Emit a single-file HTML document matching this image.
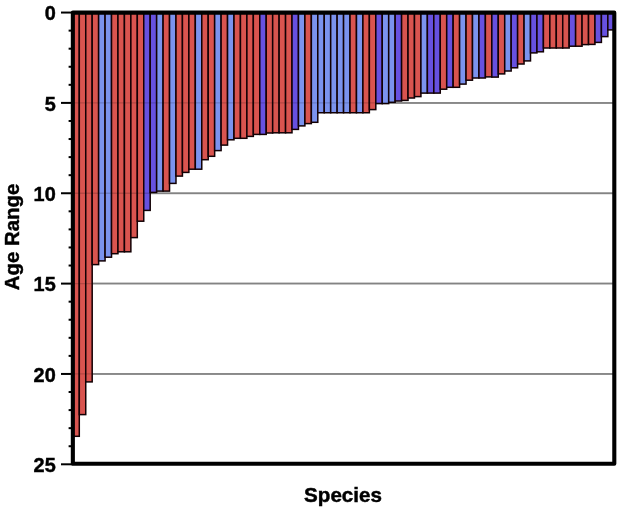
<!DOCTYPE html>
<html><head><meta charset="utf-8"><title>Age Range by Species</title>
<style>
html,body{margin:0;padding:0;background:#fff;}
body{width:622px;height:512px;overflow:hidden;}
svg{display:block;}
text{font-family:"Liberation Sans",sans-serif;font-weight:bold;fill:#000;stroke:#000;stroke-width:0.45px;}
</style></head><body>
<svg width="622" height="512" viewBox="0 0 622 512">
<rect width="622" height="512" fill="#fff"/>

<g stroke="#9c9c9c" stroke-width="2">
<line x1="72.85" x2="614.3" y1="102.90" y2="102.90"/>
<line x1="72.85" x2="614.3" y1="193.25" y2="193.25"/>
<line x1="72.85" x2="614.3" y1="283.60" y2="283.60"/>
<line x1="72.85" x2="614.3" y1="373.95" y2="373.95"/>
</g>
<g stroke="#120004" stroke-width="1.5">
<rect x="72.85" y="12.55" width="6.446" height="423.75" fill="#d9544f"/>
<rect x="79.30" y="12.55" width="6.446" height="402.05" fill="#d9544f"/>
<rect x="85.74" y="12.55" width="6.446" height="369.35" fill="#d9544f"/>
<rect x="92.19" y="12.55" width="6.446" height="252.05" fill="#d9544f"/>
<rect x="98.63" y="12.55" width="6.446" height="248.35" fill="#7b93ee"/>
<rect x="105.08" y="12.55" width="6.446" height="244.65" fill="#7b93ee"/>
<rect x="111.52" y="12.55" width="6.446" height="241.15" fill="#d9544f"/>
<rect x="117.97" y="12.55" width="6.446" height="239.25" fill="#d9544f"/>
<rect x="124.42" y="12.55" width="6.446" height="239.25" fill="#d9544f"/>
<rect x="130.86" y="12.55" width="6.446" height="225.05" fill="#d9544f"/>
<rect x="137.31" y="12.55" width="6.446" height="208.65" fill="#d9544f"/>
<rect x="143.75" y="12.55" width="6.446" height="197.85" fill="#6751e0"/>
<rect x="150.20" y="12.55" width="6.446" height="179.85" fill="#6751e0"/>
<rect x="156.65" y="12.55" width="6.446" height="178.55" fill="#7b93ee"/>
<rect x="163.09" y="12.55" width="6.446" height="178.55" fill="#d9544f"/>
<rect x="169.54" y="12.55" width="6.446" height="170.85" fill="#7b93ee"/>
<rect x="175.98" y="12.55" width="6.446" height="163.55" fill="#d9544f"/>
<rect x="182.43" y="12.55" width="6.446" height="159.85" fill="#d9544f"/>
<rect x="188.88" y="12.55" width="6.446" height="156.65" fill="#d9544f"/>
<rect x="195.32" y="12.55" width="6.446" height="156.65" fill="#7b93ee"/>
<rect x="201.77" y="12.55" width="6.446" height="147.15" fill="#d9544f"/>
<rect x="208.21" y="12.55" width="6.446" height="143.75" fill="#d9544f"/>
<rect x="214.66" y="12.55" width="6.446" height="138.05" fill="#7b93ee"/>
<rect x="221.10" y="12.55" width="6.446" height="132.55" fill="#d9544f"/>
<rect x="227.55" y="12.55" width="6.446" height="127.25" fill="#7b93ee"/>
<rect x="234.00" y="12.55" width="6.446" height="125.75" fill="#d9544f"/>
<rect x="240.44" y="12.55" width="6.446" height="125.75" fill="#d9544f"/>
<rect x="246.89" y="12.55" width="6.446" height="123.85" fill="#d9544f"/>
<rect x="253.33" y="12.55" width="6.446" height="121.85" fill="#d9544f"/>
<rect x="259.78" y="12.55" width="6.446" height="121.85" fill="#6751e0"/>
<rect x="266.23" y="12.55" width="6.446" height="120.45" fill="#d9544f"/>
<rect x="272.67" y="12.55" width="6.446" height="120.25" fill="#d9544f"/>
<rect x="279.12" y="12.55" width="6.446" height="120.25" fill="#d9544f"/>
<rect x="285.56" y="12.55" width="6.446" height="120.25" fill="#d9544f"/>
<rect x="292.01" y="12.55" width="6.446" height="116.85" fill="#6751e0"/>
<rect x="298.45" y="12.55" width="6.446" height="113.35" fill="#7b93ee"/>
<rect x="304.90" y="12.55" width="6.446" height="111.05" fill="#d9544f"/>
<rect x="311.35" y="12.55" width="6.446" height="109.75" fill="#7b93ee"/>
<rect x="317.79" y="12.55" width="6.446" height="100.20" fill="#7b93ee"/>
<rect x="324.24" y="12.55" width="6.446" height="100.20" fill="#7b93ee"/>
<rect x="330.68" y="12.55" width="6.446" height="100.20" fill="#7b93ee"/>
<rect x="337.13" y="12.55" width="6.446" height="100.20" fill="#7b93ee"/>
<rect x="343.57" y="12.55" width="6.446" height="100.20" fill="#7b93ee"/>
<rect x="350.02" y="12.55" width="6.446" height="100.20" fill="#d9544f"/>
<rect x="356.47" y="12.55" width="6.446" height="100.20" fill="#7b93ee"/>
<rect x="362.91" y="12.55" width="6.446" height="100.20" fill="#d9544f"/>
<rect x="369.36" y="12.55" width="6.446" height="97.05" fill="#d9544f"/>
<rect x="375.80" y="12.55" width="6.446" height="91.05" fill="#6751e0"/>
<rect x="382.25" y="12.55" width="6.446" height="91.05" fill="#7b93ee"/>
<rect x="388.70" y="12.55" width="6.446" height="89.75" fill="#7b93ee"/>
<rect x="395.14" y="12.55" width="6.446" height="88.45" fill="#6751e0"/>
<rect x="401.59" y="12.55" width="6.446" height="87.85" fill="#d9544f"/>
<rect x="408.03" y="12.55" width="6.446" height="85.45" fill="#d9544f"/>
<rect x="414.48" y="12.55" width="6.446" height="84.05" fill="#d9544f"/>
<rect x="420.92" y="12.55" width="6.446" height="80.55" fill="#7b93ee"/>
<rect x="427.37" y="12.55" width="6.446" height="80.55" fill="#6751e0"/>
<rect x="433.82" y="12.55" width="6.446" height="80.55" fill="#6751e0"/>
<rect x="440.26" y="12.55" width="6.446" height="76.65" fill="#d9544f"/>
<rect x="446.71" y="12.55" width="6.446" height="74.75" fill="#6751e0"/>
<rect x="453.15" y="12.55" width="6.446" height="74.75" fill="#d9544f"/>
<rect x="459.60" y="12.55" width="6.446" height="71.55" fill="#7b93ee"/>
<rect x="466.05" y="12.55" width="6.446" height="67.65" fill="#d9544f"/>
<rect x="472.49" y="12.55" width="6.446" height="65.45" fill="#7b93ee"/>
<rect x="478.94" y="12.55" width="6.446" height="65.45" fill="#6751e0"/>
<rect x="485.38" y="12.55" width="6.446" height="64.35" fill="#d9544f"/>
<rect x="491.83" y="12.55" width="6.446" height="64.55" fill="#6751e0"/>
<rect x="498.27" y="12.55" width="6.446" height="61.35" fill="#d9544f"/>
<rect x="504.72" y="12.55" width="6.446" height="58.45" fill="#7b93ee"/>
<rect x="511.17" y="12.55" width="6.446" height="55.25" fill="#6751e0"/>
<rect x="517.61" y="12.55" width="6.446" height="51.45" fill="#d9544f"/>
<rect x="524.06" y="12.55" width="6.446" height="48.35" fill="#7b93ee"/>
<rect x="530.50" y="12.55" width="6.446" height="40.35" fill="#6751e0"/>
<rect x="536.95" y="12.55" width="6.446" height="39.25" fill="#6751e0"/>
<rect x="543.40" y="12.55" width="6.446" height="35.45" fill="#d9544f"/>
<rect x="549.84" y="12.55" width="6.446" height="35.45" fill="#d9544f"/>
<rect x="556.29" y="12.55" width="6.446" height="35.45" fill="#d9544f"/>
<rect x="562.73" y="12.55" width="6.446" height="35.45" fill="#d9544f"/>
<rect x="569.18" y="12.55" width="6.446" height="33.65" fill="#6751e0"/>
<rect x="575.62" y="12.55" width="6.446" height="33.65" fill="#d9544f"/>
<rect x="582.07" y="12.55" width="6.446" height="32.05" fill="#d9544f"/>
<rect x="588.52" y="12.55" width="6.446" height="31.85" fill="#d9544f"/>
<rect x="594.96" y="12.55" width="6.446" height="29.85" fill="#6751e0"/>
<rect x="601.41" y="12.55" width="6.446" height="24.05" fill="#6751e0"/>
<rect x="607.85" y="12.55" width="6.446" height="17.35" fill="#6751e0"/>
</g>
<g stroke="#000" stroke-opacity="0.16" stroke-width="1.3">
<line x1="72.85" x2="614.3" y1="102.90" y2="102.90"/>
<line x1="72.85" x2="614.3" y1="193.25" y2="193.25"/>
<line x1="72.85" x2="614.3" y1="283.60" y2="283.60"/>
<line x1="72.85" x2="614.3" y1="373.95" y2="373.95"/>
</g>
<g stroke="#000" stroke-width="2">
<line x1="61" x2="72.85" y1="12.55" y2="12.55"/>
<line x1="68.6" x2="72.85" y1="30.62" y2="30.62"/>
<line x1="68.6" x2="72.85" y1="48.69" y2="48.69"/>
<line x1="68.6" x2="72.85" y1="66.76" y2="66.76"/>
<line x1="68.6" x2="72.85" y1="84.83" y2="84.83"/>
<line x1="61" x2="72.85" y1="102.90" y2="102.90"/>
<line x1="68.6" x2="72.85" y1="120.97" y2="120.97"/>
<line x1="68.6" x2="72.85" y1="139.04" y2="139.04"/>
<line x1="68.6" x2="72.85" y1="157.11" y2="157.11"/>
<line x1="68.6" x2="72.85" y1="175.18" y2="175.18"/>
<line x1="61" x2="72.85" y1="193.25" y2="193.25"/>
<line x1="68.6" x2="72.85" y1="211.32" y2="211.32"/>
<line x1="68.6" x2="72.85" y1="229.39" y2="229.39"/>
<line x1="68.6" x2="72.85" y1="247.46" y2="247.46"/>
<line x1="68.6" x2="72.85" y1="265.53" y2="265.53"/>
<line x1="61" x2="72.85" y1="283.60" y2="283.60"/>
<line x1="68.6" x2="72.85" y1="301.67" y2="301.67"/>
<line x1="68.6" x2="72.85" y1="319.74" y2="319.74"/>
<line x1="68.6" x2="72.85" y1="337.81" y2="337.81"/>
<line x1="68.6" x2="72.85" y1="355.88" y2="355.88"/>
<line x1="61" x2="72.85" y1="373.95" y2="373.95"/>
<line x1="68.6" x2="72.85" y1="392.02" y2="392.02"/>
<line x1="68.6" x2="72.85" y1="410.09" y2="410.09"/>
<line x1="68.6" x2="72.85" y1="428.16" y2="428.16"/>
<line x1="68.6" x2="72.85" y1="446.23" y2="446.23"/>
<line x1="61" x2="72.85" y1="464.30" y2="464.30"/>
</g>
<rect x="72.85" y="12.65" width="541.45" height="451.1" fill="none" stroke="#000" stroke-width="4.1" stroke-linejoin="round"/>
<text transform="translate(55.7,20.20) scale(0.965,1)" font-size="20.6" text-anchor="end">0</text>
<text transform="translate(55.7,110.55) scale(0.965,1)" font-size="20.6" text-anchor="end">5</text>
<text transform="translate(55.7,200.90) scale(0.965,1)" font-size="20.6" text-anchor="end">10</text>
<text transform="translate(55.7,291.25) scale(0.965,1)" font-size="20.6" text-anchor="end">15</text>
<text transform="translate(55.7,381.60) scale(0.965,1)" font-size="20.6" text-anchor="end">20</text>
<text transform="translate(55.7,471.95) scale(0.965,1)" font-size="20.6" text-anchor="end">25</text>
<text x="343" y="501.6" font-size="20.6" text-anchor="middle">Species</text>
<text transform="translate(19.2,237) rotate(-90)" font-size="20.4" text-anchor="middle">Age Range</text>
</svg></body></html>
